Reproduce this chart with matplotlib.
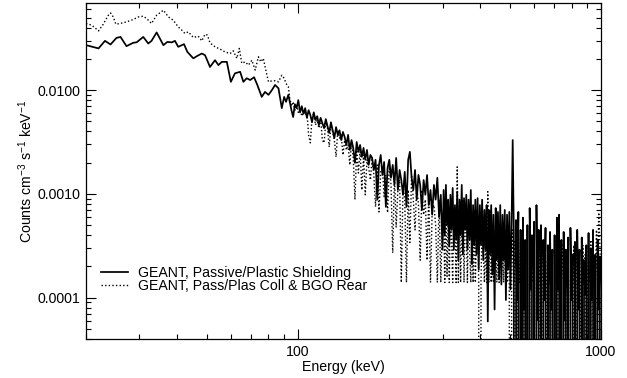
import numpy as np
import matplotlib
matplotlib.use("Agg")
import matplotlib.pyplot as plt
from matplotlib.ticker import FixedLocator, FuncFormatter, NullFormatter, LogLocator

# ---------------- data ----------------
# Solid: GEANT, Passive/Plastic Shielding -- low-energy part (keV, counts cm^-3 s^-1 keV^-1)
energy_solid_low = [20.0, 22.0, 23.1, 24.1, 25.2, 26.0, 27.2, 28.6, 29.4, 30.9, 32.1, 32.9,
                    34.2, 36.0, 37.1, 38.4, 39.3, 40.3, 42.1, 43.2, 45.2, 46.4, 48.2, 49.4,
                    51.3, 53.3, 54.7, 56.1, 58.3, 60.1, 62.0, 64.5, 66.1, 67.8, 69.6, 71.7,
                    73.5, 76.0, 77.9, 80.0, 82.1, 84.1, 86.3, 88.5, 90.1, 91.4, 93.0]
counts_solid_low = [0.0271, 0.0252, 0.0298, 0.0275, 0.0318, 0.0325, 0.0265, 0.0285, 0.0289,
                    0.0325, 0.0281, 0.0298, 0.0359, 0.0271, 0.0291, 0.0288, 0.0298, 0.0261,
                    0.0277, 0.0233, 0.0202, 0.0212, 0.0225, 0.0217, 0.0167, 0.0194, 0.0174,
                    0.0187, 0.0187, 0.0120, 0.0145, 0.0150, 0.0120, 0.0130, 0.0125, 0.0133,
                    0.0112, 0.0086, 0.0096, 0.0090, 0.0100, 0.0112, 0.0104, 0.0067, 0.0086,
                    0.0077, 0.0090]

# Dotted: GEANT, Pass/Plas Coll & BGO Rear -- low-energy part
energy_dot_low = [20.0, 20.9, 22.0, 22.8, 23.7, 24.1, 24.6, 25.1, 25.9, 27.2, 28.6, 29.8,
                  30.9, 31.7, 32.9, 34.2, 36.0, 37.4, 38.8, 40.3, 41.4, 42.4, 43.5,
                  45.2, 46.9, 48.2, 49.4, 50.3, 51.3, 53.3, 55.4, 57.5, 59.8, 61.2, 62.9,
                  64.1, 65.3, 67.0, 68.7, 70.5, 72.3, 74.1, 75.5, 76.9, 78.6, 80.0, 81.4,
                  84.1, 86.3, 88.5, 90.1, 91.4, 93.0]
counts_dot_low = [0.0438, 0.0422, 0.0372, 0.0431, 0.0526, 0.0553, 0.0507, 0.0431, 0.0438,
                  0.0454, 0.0478, 0.0507, 0.0515, 0.0489, 0.0438, 0.0526, 0.0588, 0.0507,
                  0.0471, 0.0406, 0.0378, 0.0351, 0.0364,
                  0.0321, 0.0331, 0.0298, 0.0345, 0.0338, 0.0285, 0.0261, 0.0248, 0.0233,
                  0.0225, 0.0239, 0.0202, 0.0252, 0.0181, 0.0187, 0.0174, 0.0194, 0.0156,
                  0.0209, 0.0187, 0.0202, 0.0150, 0.0120, 0.0122, 0.0123, 0.0120, 0.0139,
                  0.0130, 0.0116, 0.0108]

# Channel grids for the noisy part of both spectra
energy_mid = np.geomspace(94.0, 300.0, 90)            # 94 - 300 keV
energy_top = np.geomspace(300.0, 1000.0, 141)[1:]     # 300 - 1000 keV

counts_solid_mid = [
    7.7e-3, 6.4e-3, 5.5e-3, 7.3e-3, 6.7e-3, 8.0e-3, 6.1e-3, 7.0e-3, 5.9e-3, 6.7e-3,
    5.4e-3, 6.4e-3, 5.75e-3, 4.9e-3, 6.1e-3, 5.15e-3, 5.6e-3, 4.6e-3, 5.4e-3, 4.8e-3,
    4.3e-3, 5.25e-3, 4.5e-3, 3.86e-3, 4.9e-3, 4.1e-3, 3.45e-3, 4.4e-3, 3.7e-3, 4.1e-3,
    3.3e-3, 3.95e-3, 3.53e-3, 2.96e-3, 3.7e-3, 2.65e-3, 3.3e-3, 2.77e-3, 1.99e-3, 3.16e-3,
    2.54e-3, 2.96e-3, 2.27e-3, 2.77e-3, 2.13e-3, 2.65e-3, 1.9e-3, 2.37e-3, 2.22e-3, 1.7e-3,
    2.13e-3, 8.8e-4, 1.9e-3, 2.37e-3, 1.52e-3, 2.03e-3, 7.5e-4, 1.78e-3, 2.13e-3, 1.43e-3,
    1.9e-3, 1.22e-3, 2.22e-3, 1.09e-3, 1.7e-3, 1.36e-3, 9.8e-4, 1.63e-3, 7.5e-4, 2.13e-3,
    2.54e-3, 1.43e-3, 1.09e-3, 1.7e-3, 8.8e-4, 1.52e-3, 1.22e-3, 7.0e-4, 1.36e-3, 9.8e-4,
    1.52e-3, 7.8e-4, 1.09e-3, 6.3e-4, 1.22e-3, 8.8e-4, 1.43e-3, 6.0e-4, 9.8e-4, 2.9e-4,
]
counts_solid_top = [
    1.09e-3, 4.0e-4, 1.22e-3, 5.0e-4, 8.8e-4, 3.2e-4, 9.8e-4, 4.5e-4, 1.14e-3, 2.9e-4,
    7.8e-4, 3.6e-4, 1.05e-3, 2.3e-4, 8.8e-4, 4.0e-4, 1.22e-3, 2.6e-4, 9.1e-4, 4.5e-4,
    9.8e-4, 2.9e-4, 8.8e-4, 3.6e-4, 1.09e-3, 2.1e-4, 7.8e-4, 3.2e-4, 8.8e-4, 2.6e-4,
    9.1e-4, 1.86e-4, 7.8e-4, 3.2e-4, 8.8e-4, 2.3e-4, 7.0e-4, 2.9e-4, 7.8e-4, 5.9e-5,
    7.0e-4, 2.6e-4, 7.8e-4, 1.67e-4, 6.3e-4, 7.7e-5, 7.3e-4, 2.3e-4, 6.7e-4, 1.5e-4,
    7.8e-4, 1.34e-4, 6.3e-4, 2.3e-4, 7.0e-4, 9.5e-5, 6.3e-4, 1.86e-4, 6.7e-4, 1.2e-4,
    5.0e-4, 3.3e-3, 4.0e-4, 0.0, 5.6e-4, 9.5e-5, 6.7e-4, 0.0, 4.5e-4, 0.0,
    5.9e-4, 7.7e-5, 3.6e-4, 0.0, 5.0e-4, 0.0, 7.3e-4, 1.2e-4, 4.0e-4, 0.0,
    5.4e-4, 0.0, 7.8e-4, 6.1e-5, 4.5e-4, 0.0, 5.0e-4, 0.0, 3.6e-4, 9.5e-5,
    4.7e-4, 0.0, 3.2e-4, 0.0, 4.3e-4, 7.7e-5, 2.9e-4, 0.0, 4.0e-4, 0.0,
    5.9e-4, 1.2e-4, 6.3e-4, 0.0, 3.6e-4, 0.0, 4.3e-4, 6.1e-5, 2.9e-4, 0.0,
    3.8e-4, 0.0, 4.7e-4, 9.5e-5, 2.6e-4, 0.0, 3.45e-4, 0.0, 4.5e-4, 7.7e-5,
    2.9e-4, 0.0, 3.8e-4, 0.0, 2.3e-4, 1.07e-4, 3.2e-4, 0.0, 4.2e-4, 0.0,
    3.0e-4, 9.5e-5, 4.5e-4, 0.0, 2.6e-4, 0.0, 3.6e-4, 7.7e-5, 2.5e-4, 0.0,
]

counts_dot_mid = [
    8.4e-3, 7.0e-3, 7.7e-3, 6.4e-3, 7.3e-3, 6.1e-3, 6.7e-3, 5.6e-3, 6.4e-3, 5.75e-3,
    6.1e-3, 3.7e-3, 3.1e-3, 5.4e-3, 6.0e-3, 4.6e-3, 5.15e-3, 4.3e-3, 5.4e-3, 3.3e-3,
    3.1e-3, 4.9e-3, 4.3e-3, 2.83e-3, 4.6e-3, 3.95e-3, 3.3e-3, 2.27e-3, 4.1e-3, 3.45e-3,
    3.7e-3, 2.37e-3, 3.3e-3, 2.65e-3, 2.96e-3, 1.9e-3, 3.16e-3, 2.22e-3, 8.8e-4, 2.65e-3,
    1.59e-3, 2.65e-3, 1.09e-3, 2.37e-3, 9.8e-4, 2.13e-3, 1.78e-3, 1.36e-3, 2.22e-3, 1.52e-3,
    7.5e-4, 1.9e-3, 6.7e-4, 1.63e-3, 1.78e-3, 9.4e-4, 1.52e-3, 6.6e-4, 1.9e-3, 1.22e-3,
    2.7e-4, 1.52e-3, 4.8e-4, 1.09e-3, 1.36e-3, 1.4e-4, 1.22e-3, 8.8e-4, 1.4e-4, 1.09e-3,
    3.4e-4, 1.52e-3, 8.8e-4, 4.5e-4, 1.22e-3, 7.8e-4, 2.3e-4, 1.09e-3, 6.3e-4, 8.8e-4,
    2.3e-4, 9.8e-4, 1.4e-4, 7.0e-4, 7.8e-4, 5.0e-4, 1.4e-4, 8.8e-4, 1.4e-4, 6.3e-4,
]
counts_dot_top = [
    7.0e-4, 1.4e-4, 8.8e-4, 1.6e-4, 6.3e-4, 1.4e-4, 7.8e-4, 3.6e-4, 1.4e-4, 6.7e-4,
    5.6e-4, 1.4e-4, 1.82e-3, 1.4e-4, 7.0e-4, 1.4e-4, 5.0e-4, 8.8e-4, 1.4e-4, 6.3e-4,
    4.5e-4, 1.4e-4, 7.8e-4, 2.9e-4, 1.4e-4, 5.6e-4, 1.4e-4, 7.0e-4, 1.4e-4, 4.0e-4,
    6.3e-4, 1.4e-4, 0.0, 1.4e-4, 5.0e-4, 2.9e-4, 1.4e-4, 3.6e-4, 1.4e-4, 1.05e-3,
    1.4e-4, 7.0e-4, 1.4e-4, 4.5e-4, 1.4e-4, 3.6e-4, 5.6e-4, 1.4e-4, 3.2e-4, 1.4e-4,
    5.0e-4, 1.4e-4, 3.6e-4, 1.4e-4, 4.5e-4, 2.9e-4, 1.4e-4, 4.0e-4, 1.4e-4, 0.0,
    1.4e-4, 4.5e-4, 1.4e-4, 3.6e-4, 0.0, 1.4e-4, 3.2e-4, 1.4e-4, 4.0e-4, 1.4e-4,
    0.0, 2.9e-4, 1.4e-4, 3.6e-4, 1.4e-4, 0.0, 3.2e-4, 1.4e-4, 2.6e-4, 1.4e-4,
    4.0e-4, 0.0, 1.4e-4, 2.9e-4, 1.4e-4, 3.6e-4, 0.0, 1.4e-4, 3.2e-4, 1.4e-4,
    2.3e-4, 1.4e-4, 0.0, 3.2e-4, 1.4e-4, 2.9e-4, 1.4e-4, 0.0, 3.6e-4, 1.4e-4,
    2.6e-4, 1.4e-4, 0.0, 2.9e-4, 1.4e-4, 3.2e-4, 1.4e-4, 0.0, 2.3e-4, 1.4e-4,
    3.6e-4, 0.0, 1.4e-4, 2.6e-4, 1.4e-4, 3.2e-4, 0.0, 1.4e-4, 2.9e-4, 1.4e-4,
    2.3e-4, 1.4e-4, 0.0, 3.2e-4, 1.4e-4, 2.6e-4, 0.0, 1.4e-4, 2.9e-4, 1.4e-4,
    3.6e-4, 0.0, 1.4e-4, 2.6e-4, 1.4e-4, 4.5e-4, 1.4e-4, 6.6e-4, 3.2e-4, 1.4e-4,
]

label_solid = "GEANT, Passive/Plastic Shielding"
label_dot = "GEANT, Pass/Plas Coll & BGO Rear"
x_major = [100, 1000]
x_major_labels = ["100", "1000"]
y_major = [1e-4, 1e-3, 1e-2]
y_major_labels = ["0.0001", "0.0010", "0.0100"]

# ---------------- style ----------------
plt.rcParams["font.family"] = ["Liberation Sans", "DejaVu Sans"]
plt.rcParams["mathtext.fontset"] = "custom"
plt.rcParams["mathtext.rm"] = "Liberation Sans"
plt.rcParams["mathtext.it"] = "Liberation Sans"
plt.rcParams["mathtext.bf"] = "Liberation Sans"
plt.rcParams["mathtext.default"] = "regular"

FS = 10.2

fig = plt.figure(figsize=(6.27, 3.78), dpi=100)
ax = fig.add_axes([86 / 627, 1 - 339 / 378, (601 - 86) / 627, (339 - 3) / 378])

e_s = np.concatenate([energy_solid_low, energy_mid, energy_top])
c_s = np.concatenate([counts_solid_low, counts_solid_mid, counts_solid_top])
e_d = np.concatenate([energy_dot_low, energy_mid, energy_top])
c_d = np.concatenate([counts_dot_low, counts_dot_mid, counts_dot_top])

ax.plot(e_s, c_s, color="black", lw=1.25, ls="-", label=label_solid)
ax.plot(e_d, c_d, color="black", lw=1.0, ls=(0, (1, 1.6)), label=label_dot)

ax.set_xscale("log")
ax.set_yscale("log", nonpositive="clip")
ax.set_xlim(20, 1000)
ax.set_ylim(4.0e-5, 0.069)

ax.xaxis.set_major_locator(FixedLocator(x_major))
ax.xaxis.set_major_formatter(FuncFormatter(
    lambda v, p: x_major_labels[x_major.index(int(round(v)))] if int(round(v)) in x_major else ""))
ax.xaxis.set_minor_locator(LogLocator(base=10, subs=np.arange(2, 10)))
ax.xaxis.set_minor_formatter(NullFormatter())

ax.yaxis.set_major_locator(FixedLocator(y_major))
ax.yaxis.set_major_formatter(FuncFormatter(
    lambda v, p: y_major_labels[int(np.argmin([abs(np.log10(v) - np.log10(t)) for t in y_major]))]))
ax.yaxis.set_minor_locator(LogLocator(base=10, subs=np.arange(2, 10), numticks=20))
ax.yaxis.set_minor_formatter(NullFormatter())

ax.tick_params(which="both", direction="in", top=True, right=True, width=0.8, colors="black")
ax.tick_params(which="major", length=7.0, labelsize=FS, pad=4)
ax.tick_params(which="minor", length=3.8)
for s in ax.spines.values():
    s.set_linewidth(0.9)

ax.set_xlabel("Energy (keV)", fontsize=FS, labelpad=1)
ax.set_ylabel(r"Counts cm$^{-3}$ s$^{-1}$ keV$^{-1}$", fontsize=FS, labelpad=2)

leg = ax.legend(loc="lower left", bbox_to_anchor=(0.029, 0.138), frameon=False,
                fontsize=FS, handlelength=1.9, handletextpad=0.7, labelspacing=-0.1,
                borderaxespad=0.0, borderpad=0.0)

fig.savefig("out.png", dpi=100)
